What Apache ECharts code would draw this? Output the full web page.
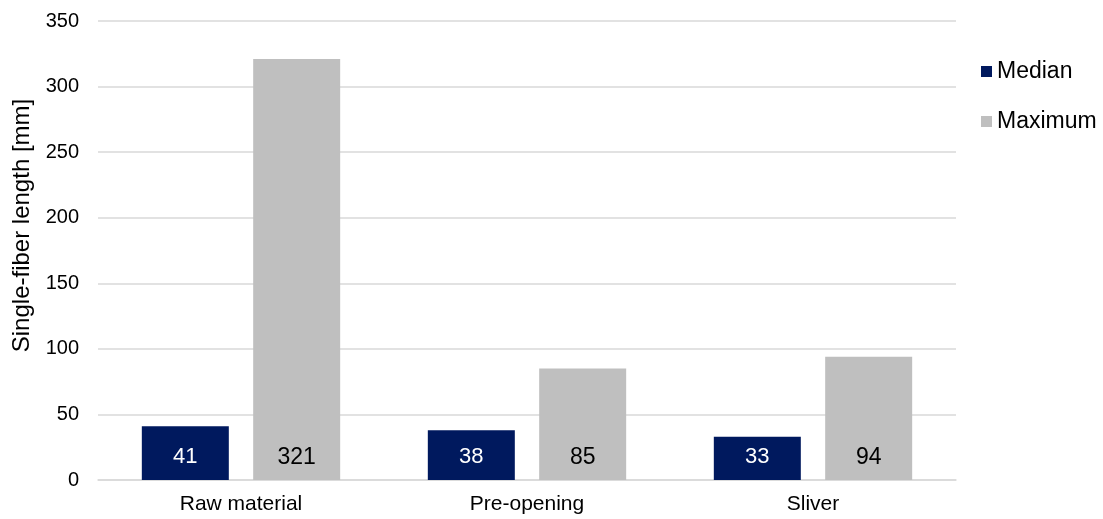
<!DOCTYPE html>
<html>
<head>
<meta charset="utf-8">
<script src="https://cdn.jsdelivr.net/npm/echarts@6/dist/echarts.min.js"></script>
<style>
html,body{margin:0;padding:0;background:#fff;}
#chart{width:1103px;height:519px;}
</style>
</head>
<body>
<div id="chart"></div>
<script>
var categories = ['Raw material', 'Pre-opening', 'Sliver'];
var medianValues = [41, 38, 33];
var maximumValues = [321, 85, 94];
var yTicks = [0, 50, 100, 150, 200, 250, 300, 350];

var FONT = '"Liberation Sans", Arial, sans-serif';
var chart = echarts.init(document.getElementById('chart'));
chart.setOption({
  backgroundColor: '#ffffff',
  animation: false,
  grid: { left: 98, right: 147, top: 21, bottom: 39, containLabel: false },
  legend: {
    orient: 'vertical',
    left: 976,
    top: 55,
    itemWidth: 11,
    itemHeight: 11,
    itemGap: 27,
    icon: 'rect',
    textStyle: { fontFamily: FONT, fontSize: 23, color: '#000' },
    data: ['Median', 'Maximum']
  },
  xAxis: {
    type: 'category',
    data: categories,
    axisLine: { show: true, lineStyle: { color: '#D9D9D9', width: 1.5 } },
    axisTick: { show: false },
    axisLabel: { fontFamily: FONT, fontSize: 21, color: '#000', margin: 14 }
  },
  yAxis: {
    type: 'value',
    min: yTicks[0],
    max: yTicks[yTicks.length - 1],
    interval: 50,
    name: 'Single-fiber length [mm]',
    nameLocation: 'middle',
    nameGap: 63,
    nameTextStyle: { fontFamily: FONT, fontSize: 24, color: '#000', padding: [0, 0, 0, 50] },
    axisLine: { show: false },
    axisTick: { show: false },
    axisLabel: { fontFamily: FONT, fontSize: 20, color: '#000', margin: 19 },
    splitLine: { lineStyle: { color: '#D9D9D9', width: 1.5 } }
  },
  series: [
    {
      name: 'Median',
      type: 'bar',
      data: medianValues,
      barWidth: 87,
      barGap: '28%',
      itemStyle: { color: '#00195E' },
      label: { show: true, position: 'insideBottom', distance: 12, fontFamily: FONT, fontSize: 22, color: '#fff' }
    },
    {
      name: 'Maximum',
      type: 'bar',
      data: maximumValues,
      barWidth: 87,
      barGap: '28%',
      itemStyle: { color: '#BFBFBF' },
      label: { show: true, position: 'insideBottom', distance: 11, fontFamily: FONT, fontSize: 23, color: '#000' }
    }
  ]
});
</script>
</body>
</html>
